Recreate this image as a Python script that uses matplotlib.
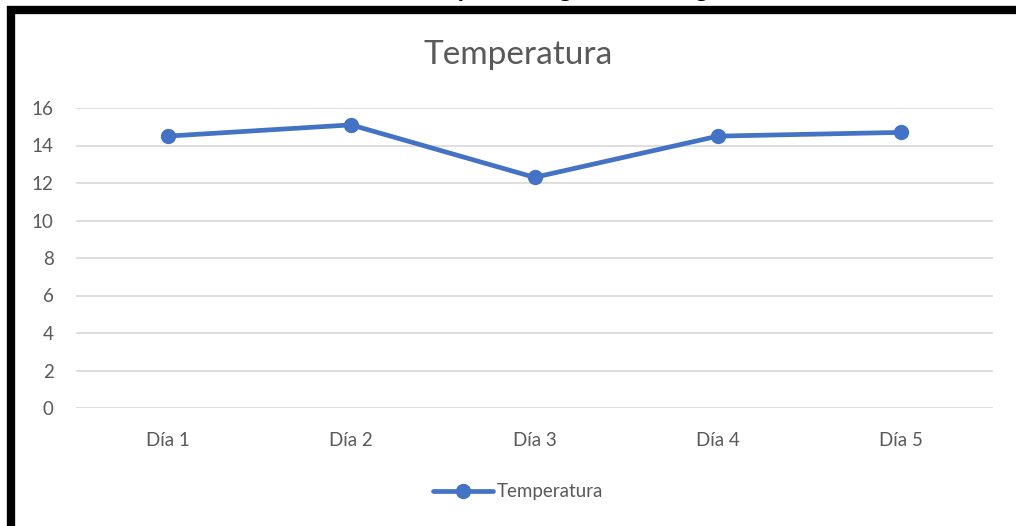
import matplotlib.pyplot as plt
from matplotlib.patches import Rectangle

# Data
dias = ["Día 1", "Día 2", "Día 3", "Día 4", "Día 5"]
temperatura = [14.5, 15.1, 12.3, 14.5, 14.7]
y_ticks = [0, 2, 4, 6, 8, 10, 12, 14, 16]

plt.rcParams['font.family'] = ['Lato', 'DejaVu Sans']

azul = '#4472C4'
gris_texto = '#595959'

fig = plt.figure(figsize=(10.16, 5.26), dpi=100)
ax = fig.add_axes([76 / 1016, 1 - 408 / 526, 917 / 1016, 300 / 526])

x = list(range(len(dias)))
ax.plot(x, temperatura, color=azul, linewidth=3.4, marker='o', markersize=10,
        solid_capstyle='round', label='Temperatura', zorder=3)

ax.set_xlim(-0.5, len(dias) - 0.5)
ax.set_ylim(0, 16)
ax.set_yticks(y_ticks)
ax.set_xticks(x)
ax.set_xticklabels(dias)
ax.grid(axis='y', color='#D9D9D9', linewidth=1.2)
ax.set_axisbelow(True)
for s in ax.spines.values():
    s.set_visible(False)
ax.tick_params(axis='both', length=0, colors=gris_texto, labelsize=13.5)
ax.tick_params(axis='y', pad=16)
ax.tick_params(axis='x', pad=17)

fig.text(518 / 1016, 1 - 55 / 526, "Temperatura", ha='center', va='center',
         fontsize=24, color=gris_texto)

leg = ax.legend(loc='center', bbox_to_anchor=(518 / 1016, 1 - 492 / 526),
                bbox_transform=fig.transFigure, frameon=False, fontsize=13.5,
                handlelength=3.2, handletextpad=0.2)
for t in leg.get_texts():
    t.set_color(gris_texto)

# heading of the page, cut off at the top
fig.text(517 / 1016, 1 + 3 / 526, "Variación de Temperatura grados centígrados",
         ha='center', va='baseline', fontsize=18, fontweight='bold', color='black')

# black frame, open to the right and bottom
fig.patches.append(Rectangle((11 / 1016, -0.1), 1.2, 1 - 9.5 / 526 + 0.1,
                             transform=fig.transFigure, fill=False,
                             edgecolor='black', linewidth=6))

fig.savefig('out.png', dpi=100)
